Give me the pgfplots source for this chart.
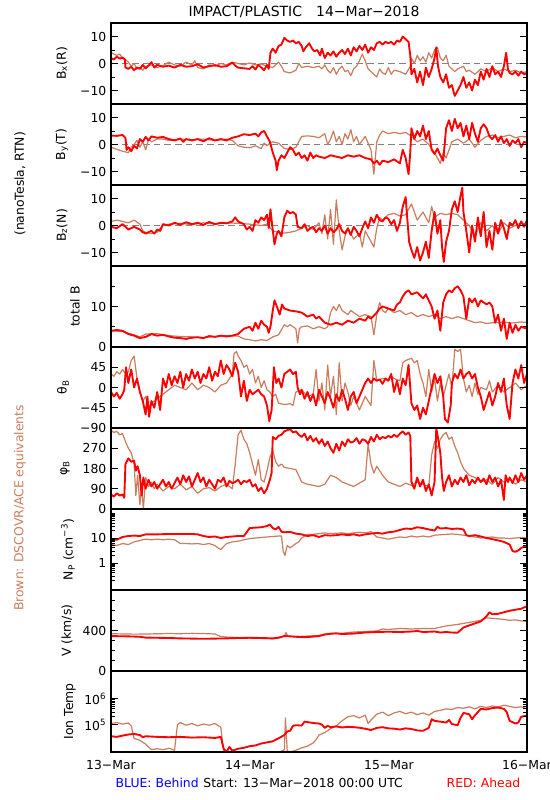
\documentclass[border=0pt]{standalone}
\usepackage{fontspec}
\setmainfont{DejaVu Sans}
\usepackage{pgfplots}
\pgfplotsset{compat=1.18}
\definecolor{brn}{RGB}{200,125,95}
\definecolor{zl}{RGB}{130,130,130}
\pgfplotsset{
  panel/.style={
    scale only axis, width=312pt, height=60.75pt,
    anchor=south west,
    xmin=0, xmax=72,
    xtick=\empty,
    minor xtick={0,6,...,72},
    tick align=inside,
    major tick length=5.5pt, minor tick length=3.2pt,
    axis line style={line width=1pt},
    every tick/.style={black, line width=0.7pt},
    tick label style={font=\fontsize{9.3}{10}\selectfont},
    axis on top,
    /pgf/number format/assume math mode=true,
  },
  rl/.style={color=red, line width=1.4pt, line join=round},
  bl/.style={color=brn, line width=0.9pt, line join=round},
  zline/.style={color=zl, dash pattern=on 5pt off 3pt, line width=0.8pt},
}
\begin{document}
\begin{tikzpicture}[font=\fontsize{9.3}{11}\selectfont]
\useasboundingbox (0,0) rectangle (412.5pt,600pt);

% ---------- Bx ----------
\begin{axis}[panel, at={(83.25pt,522pt)}, ymin=-15, ymax=15, ytick={-10,0,10}, yticklabels={−10,0,10}, minor ytick={-5,5}]
\addplot[zline] coordinates {(0,0) (72,0)};
\addplot[bl] coordinates {(0,4) (0.5,3.5) (1,3) (1.5,3.5) (2,2) (2.5,1.5) (3,0.5) (3.5,-1) (4,0) (4.5,-2) (5,-1.5) (5.5,-2.5) (6,-1) (7,-0.5) (8,-1.5) (9,-0.8) (10,0.5) (11,-0.5) (12,-1) (13,0.5) (14,-0.5) (14.5,1) (15,-1.5) (16,-2) (17,-0.5) (18,-1) (19,0) (20,-0.5) (21,0.5) (22,0) (23,-0.5) (24,0.2) (25,-0.5) (26,-0.2) (27,-1) (28,-1.5) (29,0.5) (29.5,-1) (30,-3) (31,-3.5) (31.5,-3) (32,-2.5) (32.5,0) (33,-1.5) (34,-1) (35,-1.5) (36,-1) (36.5,-2) (37,-0.5) (37.5,-2.5) (38,-3.5) (38.5,-1.5) (39,-4) (39.5,-2) (40,-1) (40.5,-3) (41,-2.5) (41.5,-4.5) (42,-2) (42.5,-1) (43,1) (43.5,3.5) (44,1) (44.5,-2) (45,-3) (45.5,-4) (46,-5) (46.5,-2) (47,-3.5) (47.5,-4) (48,-1.5) (48.5,-4) (49,-2.5) (50,-3) (51,-4) (51.8,-1) (52,2) (52.5,0) (53,3) (53.5,1) (54,2.5) (54.5,0.5) (55,4) (55.5,2) (56,5) (56.5,6) (57,2) (57.5,1) (58,3) (58.5,-1) (59,-2) (59.5,-3) (60,-2) (61,-1) (61.5,-3) (62,-2.5) (63,-4) (64,-2) (65,-3) (66,-1.5) (67,-3) (68,-2) (69,-3) (70,-2.5) (71,-3.5) (72,-3)};
\addplot[rl] coordinates {(0,2) (0.5,1.5) (1,2.5) (1.5,1.8) (2,2.2) (2.4,1.5) (2.5,-1.5) (3,-2) (3.5,-1.2) (4,-2.5) (4.5,-1.5) (5,-2) (5.5,-0.5) (6,-1.8) (6.5,-0.8) (7,0.5) (7.5,-1.5) (8,-0.5) (9,-1.2) (10,-0.8) (11,-1.5) (12,-0.5) (13,-1.2) (14,-1) (15,-0.3) (16,-1.5) (17,-1) (18,-0.6) (19,-1.2) (20,-1) (21,0.3) (21.5,-0.8) (22,-1.5) (23,-1.8) (24,-2) (24.5,-1) (25,-2.2) (25.5,-0.5) (26,-1.5) (26.5,-2.5) (27,-0.5) (27.3,-2) (27.6,4) (28,5.5) (28.5,4) (29,6.5) (29.5,7) (30,9.5) (30.5,8.5) (31,8) (31.5,8.5) (32,7.5) (32.5,8) (33,6.5) (33.3,4.5) (33.7,6) (34.3,7.5) (34.8,5.5) (35.2,4.5) (35.7,5) (36.2,3) (36.5,5.5) (37,2) (37.5,4) (38,3) (38.5,4.5) (39,2.5) (39.5,4) (40,5) (40.5,3.5) (41,5.5) (41.5,3) (42,6) (42.5,4.5) (43,6.5) (43.5,5) (44,7) (44.5,4) (45,6) (45.5,5) (46,7.5) (46.5,8) (47,7) (47.5,8) (48,7.5) (48.5,8) (49,7) (49.5,8.5) (50,8) (50.5,10) (51,9) (51.5,8) (51.8,3) (52,-4) (52.5,-2) (53,-7) (53.5,-3) (54,-8) (54.5,-1.5) (55,-5) (55.5,-2) (56,2) (56.3,6) (56.6,-1) (57,-5) (57.5,-7) (58,-4) (58.5,-9) (59,-8) (59.5,-12) (60,-10) (60.5,-8) (61,-5) (61.5,-9) (62,-7) (62.5,-10) (63,-6) (63.5,-8) (64,-3) (64.5,-6) (65,-2) (65.5,-5) (66,-1) (66.5,-4) (67,-3) (67.5,-5) (68,-1) (68.4,4) (68.7,-2) (69,-3.5) (69.5,-4) (70,-3) (70.5,-4.5) (71,-3) (71.5,-4) (72,-3.5)};
\end{axis}

% ---------- By ----------
\begin{axis}[panel, at={(83.25pt,461.25pt)}, ymin=-15, ymax=15, ytick={-10,0,10}, yticklabels={−10,0,10}, minor ytick={-5,5}]
\addplot[zline] coordinates {(0,0) (72,0)};
\addplot[bl] coordinates {(0,-1) (1,-1.8) (2,-2.5) (3,-3) (3.5,-1) (4,0) (4.5,1.5) (5,-1) (5.5,1) (6,-2) (6.5,2) (7,1) (8,2) (9,2) (10,1.5) (12,2) (14,1.8) (16,2) (18,1.5) (20,2) (21,1.5) (22,-0.5) (23,-1) (24,-1.2) (25,-0.5) (26,-1.5) (26.5,0.5) (27,-0.5) (27.5,0.5) (28,1) (29,0.5) (30,-1.5) (31,-1.8) (32,-1) (33,3) (34,3.2) (35,3) (36,2.5) (37,4) (37.5,0) (38,2) (38.5,5) (39,1) (39.5,3) (40,0) (40.5,4) (41,2) (41.5,5.5) (42,1) (42.5,3) (43,0) (44,3) (45,-2) (45.5,-11) (46,1) (46.5,3.5) (47,5) (48,4) (49,4.5) (50,4) (51,4.5) (52,3) (53,1) (54,2) (55,0) (56,-3) (56.5,-5) (57,-7) (57.5,-3) (58,-5) (58.5,-2) (59,1) (60,2) (61,0.5) (62,2) (63,-1) (64,1.5) (65,3) (66,3.5) (67,2.5) (68,3) (69,3.5) (70,2.5) (71,3) (72,2.8)};
\addplot[rl] coordinates {(0,3.3) (1,3.2) (2,3.5) (2.5,2.5) (2.7,-2) (3,-1) (3.5,-2.5) (4,-0.5) (4.5,-1.5) (5,2) (5.5,1) (6,2.8) (6.5,1.5) (7,3) (8,2.5) (9,2.8) (10,2) (11,1.5) (12,2.2) (12.5,1) (13,2) (14,1.5) (15,2) (16,1.2) (17,2.3) (18,1.5) (19,2) (20,1.5) (21,2.5) (22,3) (23,3.8) (24,3.5) (25,4) (25.5,3) (26,4.5) (26.5,5) (27,3) (27.5,1) (28,-3) (28.5,-6) (28.7,-9.5) (29,-6) (29.5,-4) (30,-5) (30.5,-3) (31,-1) (31.5,-2) (32,-4) (32.5,-3) (33,-5) (33.5,-4) (34,-6) (34.5,-3) (35,-5) (35.5,-4) (36,-4.5) (37,-5) (38,-4) (39,-4.5) (40,-5) (41,-4) (42,-4.5) (43,-4) (44,-5) (45,-5.5) (45.5,-7) (46,-6) (46.5,-7.5) (47,-6) (48,-6.5) (49,-5.5) (50,-7) (50.5,-2) (51,-5) (51.5,-11) (51.8,-3) (52,6) (52.5,2) (53,5) (53.5,3) (54,7) (54.5,2) (55,5) (55.5,-2) (56,-3.5) (56.5,-1.5) (57,-4) (57.5,-6) (58,6) (58.5,9) (59,5) (59.5,9.5) (60,6) (60.5,8) (61,3) (61.5,7) (62,2) (62.5,8) (63,4) (63.5,1) (64,6) (64.5,7.5) (65,6) (65.5,3) (66,2) (66.5,3.5) (67,1) (67.5,3) (68,0.5) (68.5,2) (69,-0.5) (69.5,1.5) (70,0.5) (70.5,2) (71,-1) (71.5,1) (72,0.5)};
\end{axis}

% ---------- Bz ----------
\begin{axis}[panel, at={(83.25pt,400.5pt)}, ymin=-15, ymax=15, ytick={-10,0,10}, yticklabels={−10,0,10}, minor ytick={-5,5}]
\addplot[zline] coordinates {(0,0) (72,0)};
\addplot[bl] coordinates {(0,1.5) (1,2) (2,1.5) (3,1) (4,2) (5,0.5) (5.5,-2) (6,-2.5) (7,-3) (8,-2.5) (8.5,-1) (9,0) (10,0.5) (12,0.8) (14,0.3) (16,1) (18,0.5) (20,1) (22,0.8) (24,0.5) (26,0) (27,0.5) (28,-2) (29,-2.5) (30,-2.8) (31,-2.5) (32,-2) (33,-1) (34,0) (35,-1.5) (36,1) (36.5,-3) (37,4) (37.5,-5) (38,6) (38.5,-7) (39,9.5) (39.5,-2) (40,-9) (40.5,-4) (41,-1) (42,-5) (43,-3) (43.5,-8) (44,-2) (45,-6) (45.5,-8) (46,-1) (46.5,3) (47,2) (48,4) (49,4.5) (50,3.5) (51,4) (52,8) (53,2) (54,5) (55,1) (55.5,7) (56,3) (57,4.5) (58,4) (59,4.5) (60,4) (61,2) (62,0) (63,-4) (64,1) (65,-2) (66,0) (67,-3) (68,1) (69,-1) (70,0) (71,1) (72,0.5)};
\addplot[rl] coordinates {(0,-0.5) (1,-1) (2,0.5) (3,-1.5) (4,-0.5) (5,-1.5) (5.5,-2.5) (6,-3) (7,-2) (7.5,-3) (8,-1.5) (8.5,-2) (9,0.5) (10,0) (11,1) (12,0.3) (13,1.2) (14,0.5) (15,1) (16,0.2) (17,1.3) (18,0.5) (19,1) (20,0.8) (21,1.5) (21.5,3) (22,1.5) (23,0.5) (23.5,-1.5) (24,-0.5) (24.5,-2) (25,2) (25.5,1) (26,3) (26.5,2) (27,4) (27.3,-1) (27.6,6) (27.9,0) (28.3,-7) (28.7,-3) (29,-2) (29.5,-4) (30,3) (30.5,5.5) (31,4.5) (31.5,5) (32,4) (32.3,-0.5) (33,-1) (33.5,0.5) (34,-2) (34.5,-1) (35,-0.5) (35.5,-2.5) (36,-1) (36.5,-2) (37,0) (37.5,-3) (38,-1) (38.5,-2.5) (39,-1.5) (39.5,0.5) (40,-2) (40.5,-3) (41,-1) (41.5,-3.5) (42,-0.5) (42.5,-2) (43,-4) (43.5,-1) (44,1.5) (44.5,-1) (45,3) (45.5,1) (46,4) (46.5,2) (47,1.5) (47.5,3) (48,2.5) (48.5,0.5) (49,2) (49.5,-2) (50,1) (50.5,7) (51,10.5) (51.3,2) (51.6,-6) (52,-9) (52.5,-12) (53,-8) (53.5,-13) (54,-10) (54.5,-6) (55,-12) (55.5,-2) (56,5) (56.5,-3) (57,2) (57.3,-8) (57.6,-13.5) (58,-6) (58.5,-2) (59,6) (59.5,9) (60,5) (60.5,11) (60.8,14) (61,5) (61.5,-2) (62,-10) (62.5,0) (63,-6) (63.5,3) (64,-4) (64.5,5) (65,-8) (65.5,-2) (66,-9) (66.5,1) (67,-3) (67.5,2) (68,-1) (68.5,-5) (69,1) (69.5,0) (70,2) (70.5,-1) (71,1.5) (71.5,-0.5) (72,2)};
\end{axis}

% ---------- total B ----------
\begin{axis}[panel, at={(83.25pt,339.75pt)}, ymin=0, ymax=20, ytick={0,10,20}, yticklabels={0,10,{}}, minor ytick={5,15}]
\addplot[bl] coordinates {(0,4) (2,3.8) (4,3) (5,2.5) (6,3.2) (8,3.3) (10,2.8) (12,2.6) (14,2.5) (16,2.3) (18,2.6) (20,2.8) (22,2.7) (23,2) (24,1.8) (25,1.5) (26,1.8) (27,1.6) (28,2.5) (29,3) (30,5.5) (30.5,5) (31,5.5) (32,4.5) (32.3,1) (32.6,4.5) (33,5) (34,5.2) (35,4.5) (36,5) (37,4.5) (37.5,5) (38,8.5) (38.5,10) (39,9) (39.5,10.5) (40,9) (41,8) (41.5,9) (42,8.5) (43,7.5) (44,8) (45,7.5) (45.5,3) (46,8) (46.5,11) (47,9) (47.5,8.5) (48,9.5) (49,8.5) (50,9) (51,8) (52,8.5) (53,7.5) (54,8) (55,7.5) (56,8) (57,7) (58,7.5) (59,7) (60,7.5) (61,7) (62,6.5) (63,6) (64,6.2) (65,5.8) (66,6) (67,6) (68,6.2) (69,5.9) (70,6) (71,6.2) (72,6)};
\addplot[rl] coordinates {(0,4) (1,4.2) (2,4) (3,3.2) (4,2.8) (5,2.2) (6,2.5) (7,3.2) (8,2.8) (9,3) (10,2.6) (11,2.3) (12,2.2) (13,2) (14,2.3) (15,2.4) (16,2.2) (17,2.7) (18,2.5) (19,2.8) (20,2.6) (21,2.8) (22,3.2) (23,4.5) (24,5) (24.5,4) (25,6) (25.5,4.5) (26,6.5) (26.5,5.5) (27,5) (27.3,3.5) (27.6,5) (28,9) (28.3,11.5) (28.7,10) (29.2,8) (29.6,10.5) (30,9.5) (31,9) (32,8.8) (33,8.5) (34,7.5) (35,8) (35.5,7) (36,7.5) (37,6) (38,5.5) (39,6) (40,5.5) (41,6.5) (42,6) (43,7) (44,6.5) (44.5,7.5) (45,7) (46,8.5) (46.5,9.5) (47,10) (48,9.5) (49,9) (49.5,10.5) (50,11) (50.5,12.5) (51,13.5) (51.5,14) (52,13) (53,13.5) (54,12) (54.5,13) (55,11.5) (55.5,10) (56,7) (56.5,9) (57,4) (57.5,11) (58,13) (58.5,14) (59,13.5) (59.5,14.5) (60,15) (60.5,14) (61,12.5) (61.5,7) (62,12) (62.5,11) (63,12) (63.5,10) (64,11.5) (65,10.5) (65.5,11) (66,10) (66.5,6) (67,8) (67.5,4) (68,7) (68.5,2) (69,6) (69.5,3.5) (70,5.5) (70.5,4) (71,5) (72,4.5)};
\end{axis}

% ---------- theta ----------
\begin{axis}[panel, at={(83.25pt,279pt)}, ymin=-90, ymax=90, ytick={-90,-45,0,45,90}, yticklabels={−90,−45,0,45,{}}]
\addplot[bl] coordinates {(0,30) (0.5,25) (1,35) (1.5,30) (2,40) (2.5,30) (3,35) (3.5,60) (4,70) (4.5,20) (5,-10) (5.5,-30) (6,-20) (6.5,-45) (7,-35) (8,-25) (9,-15) (10,-5) (11,5) (12,0) (13,-5) (14,10) (15,-5) (16,5) (17,0) (18,-10) (19,5) (20,10) (21,30) (21.3,75) (21.7,80) (22,70) (22.5,60) (23,45) (23.5,50) (24,30) (24.5,40) (25,10) (25.5,25) (26,0) (26.5,15) (27,-5) (27.5,-10) (28,-20) (28.5,-15) (29,-35) (30,-38) (31,-36) (31.5,-40) (32,-10) (33,-5) (34,-20) (35,-15) (35.5,40) (36,-30) (36.5,10) (37,-50) (37.5,50) (38,-20) (38.5,25) (39,-60) (39.5,55) (40,-30) (40.5,10) (41,-10) (41.5,-40) (42,-20) (43,-50) (44,-20) (45,-40) (45.5,60) (46,15) (47,20) (48,18) (48.5,25) (49,20) (50,15) (50.5,55) (51,60) (52,65) (52.5,55) (53,60) (53.5,30) (54,10) (54.5,-20) (55,40) (55.5,-10) (56,20) (56.5,-30) (57,10) (57.5,-20) (58,5) (58.5,30) (59,0) (59.5,85) (60,80) (60.5,85) (61,20) (61.5,-10) (62,5) (62.5,-20) (63,10) (63.5,-15) (64,0) (65,-5) (65.5,15) (66,-10) (67,5) (68,-10) (69,0) (70,10) (71,-5) (72,5)};
\addplot[rl] coordinates {(0,-10) (0.5,-20) (1,-12) (1.5,-25) (2,-15) (2.3,-5) (2.6,45) (3,10) (3.5,40) (4,0) (4.5,20) (5,-10) (5.5,-30) (6,-60) (6.3,-20) (6.6,-65) (7,-30) (7.5,-45) (8,-10) (8.5,-50) (9,20) (9.5,0) (10,30) (10.5,5) (11,25) (11.5,10) (12,35) (12.5,0) (13,30) (13.5,15) (14,40) (14.5,20) (15,35) (15.5,10) (16,30) (16.5,20) (17,45) (17.5,15) (18,35) (18.5,25) (19,60) (19.5,30) (20,50) (20.5,40) (21,25) (21.5,55) (22,35) (22.5,-20) (23,15) (23.5,-30) (24,-5) (24.5,-15) (25,-10) (25.5,-5) (26,-15) (26.5,-20) (27,-40) (27.4,-75) (27.8,-50) (28.2,45) (28.6,10) (29,20) (29.5,0) (30,30) (30.5,35) (31,40) (31.5,30) (32,35) (32.3,0) (32.7,-15) (33,-5) (33.5,-25) (34,-10) (34.5,-30) (35,-15) (35.5,-40) (36,-5) (36.5,-20) (37,-35) (37.5,-10) (38,-25) (38.5,-45) (39,-15) (39.5,-30) (40,-5) (40.5,-25) (41,-50) (41.5,-20) (42,-10) (42.5,-35) (43,-20) (43.5,-5) (44,10) (44.5,20) (45,10) (45.5,20) (46,15) (46.5,18) (47,8) (47.5,20) (48,15) (48.5,30) (49,-10) (49.5,15) (50,-15) (50.5,20) (51,5) (51.5,50) (52,-35) (52.5,-50) (53,-40) (53.5,-70) (54,-45) (54.5,-60) (55,-30) (55.5,0) (56,30) (56.5,10) (57,25) (57.5,-20) (57.8,-70) (58.3,-78) (58.8,-40) (59,10) (59.5,30) (60,20) (60.5,40) (61,20) (61.5,30) (62,35) (62.5,20) (63,30) (63.5,0) (64,-20) (64.5,-50) (65,-30) (65.5,-10) (66,-40) (66.5,-20) (67,10) (67.5,-10) (68,20) (68.5,-40) (69,-70) (69.5,10) (70,40) (70.5,20) (71,50) (71.5,10) (72,30)};
\end{axis}

% ---------- phi ----------
\begin{axis}[panel, at={(83.25pt,218.25pt)}, ymin=0, ymax=360, ytick={0,90,180,270,360}, yticklabels={0,90,180,270,{}}]
\addplot[bl] coordinates {(0,350) (0.5,340) (1,345) (1.5,330) (2,335) (2.5,300) (3,270) (3.5,250) (4,200) (4.3,60) (4.6,150) (5,20) (5.3,100) (5.6,0) (6,140) (6.5,100) (7,120) (7.5,90) (8,110) (9,80) (10,100) (11,90) (12,110) (13,85) (14,100) (15,70) (16,90) (17,95) (18,80) (19,100) (20,110) (21,90) (21.5,200) (22,330) (22.5,350) (23,310) (23.5,290) (24,250) (24.5,200) (25,150) (25.5,220) (26,130) (26.5,120) (27,170) (27.5,230) (28,260) (28.5,210) (29,190) (29.5,200) (30,185) (31,180) (32,175) (33,120) (34,110) (35,105) (36,100) (37,110) (37.5,130) (38,150) (39,140) (40,120) (41,110) (42,100) (43,115) (44,130) (44.5,290) (45,200) (45.5,160) (46,190) (47,150) (48,120) (49,110) (50,100) (51,115) (52,105) (53,120) (54,110) (55,100) (55.5,240) (56,300) (56.5,270) (57,310) (57.5,330) (58,340) (58.5,310) (59,320) (59.5,280) (60,250) (60.5,210) (61,180) (62,150) (63,140) (64,120) (65,130) (66,110) (67,140) (68,120) (69,135) (70,110) (71,130) (72,120)};
\addplot[rl] coordinates {(0,65) (0.5,55) (1,70) (1.5,60) (2,65) (2.3,50) (2.5,200) (3,225) (3.5,210) (4,215) (4.3,170) (4.6,190) (5,150) (5.3,60) (5.6,140) (6,90) (6.5,130) (7,100) (7.5,120) (8,90) (8.5,110) (9,130) (9.5,100) (10,120) (10.5,90) (11,115) (11.5,140) (12,110) (12.5,150) (13,120) (13.5,145) (14,100) (14.5,130) (15,160) (15.5,120) (16,140) (16.5,100) (17,130) (17.5,110) (18,90) (18.5,130) (19,120) (19.5,140) (20,100) (20.5,125) (21,115) (21.5,120) (22,130) (22.5,110) (23,125) (23.5,120) (24,130) (24.5,100) (25,110) (25.5,80) (26,95) (26.5,70) (27,90) (27.5,130) (27.8,160) (28,320) (28.5,310) (29,325) (29.5,330) (30,345) (30.5,350) (31,355) (31.5,340) (32,345) (32.5,330) (33,320) (33.5,335) (34,305) (34.5,325) (35,300) (35.5,315) (36,290) (36.5,310) (37,280) (37.5,300) (38,270) (38.5,250) (39,290) (39.5,260) (40,300) (40.5,280) (41,310) (41.5,295) (42,300) (42.5,315) (43,290) (43.5,310) (44,305) (44.5,290) (45,320) (45.5,300) (46,330) (46.5,310) (47,320) (47.5,315) (48,325) (48.5,318) (49,330) (49.5,320) (50,335) (50.5,345) (51,330) (51.5,340) (51.8,325) (52,120) (52.5,90) (53,140) (53.5,100) (54,130) (54.5,80) (55,110) (55.5,60) (56,120) (56.3,360) (56.7,300) (57,250) (57.3,140) (57.6,80) (58,120) (58.5,150) (59,100) (59.5,130) (60,110) (60.5,140) (61,120) (61.5,150) (62,105) (62.5,130) (63,115) (63.5,140) (64,120) (64.5,135) (65,110) (65.5,150) (66,120) (66.5,140) (67,100) (67.5,130) (68,40) (68.3,150) (68.7,120) (69,140) (69.5,115) (70,150) (70.5,120) (71,160) (71.5,130) (72,150)};
\end{axis}

% ---------- Np ----------
\begin{axis}[panel, at={(83.25pt,157.5pt)}, ymode=log, ymin=0.083, ymax=145, ytick={1,10}, yticklabels={1,10}, minor ytick={0.09,0.2,0.3,0.4,0.5,0.6,0.7,0.8,0.9,2,3,4,5,6,7,8,9,20,30,40,50,60,70,80,90,100}]
\addplot[bl] coordinates {(0,5.5) (1,5) (2,6) (3,5.5) (4,7) (5,8) (6,9) (7,8.5) (8,9) (9,8.5) (10,9) (11,8.5) (12,6) (13,6) (14,5.8) (15,6) (16,5.5) (17,6) (18,5) (18.5,4) (19,3.5) (20,6) (21,7) (22,7.5) (23,8.5) (24,9.5) (25,10) (26,10.5) (27,11) (28,11.5) (29,12) (29.5,12) (29.8,3) (30.1,2) (30.5,5) (31,4) (32,6) (32.5,7) (33,10) (34,14) (35,14) (36,15) (37,16) (38,15) (39,15.5) (40,16) (41,15) (42,16) (43,17) (44,16) (45,18) (46,11) (47,10) (48,9) (49,10) (50,11) (51,10.5) (52,12) (53,11) (54,12) (55,11) (56,13) (57,13.5) (58,14) (59,14.5) (60,14) (61,13) (62,12) (63,11) (64,10) (65,10.5) (66,11) (67,10) (68,10) (69,9.5) (70,10) (71,10.5) (72,10)};
\addplot[rl] coordinates {(0,9) (1,8.5) (2,11) (3,12) (4,12.5) (5,12) (6,14) (8,14) (10,14.5) (12,14.5) (14,14.5) (15,14) (16,12) (17,11) (18,11.5) (19,10) (20,11) (21,11.5) (22,12) (23,12) (24,25) (25,26) (26,27) (27,30) (27.5,35) (28,25) (28.5,22) (29,28) (29.5,18) (30,17) (31,17.5) (32,15) (33,14) (34,12) (35,13) (36,11) (37,13) (38,12.5) (39,13) (40,14) (41,13) (42,14) (43,12.5) (44,14) (45,15) (46,16) (47,15) (48,17) (49,18) (50,21) (51,24) (52,23) (53,27) (54,25) (55,22) (56,20) (56.5,28) (57,24) (58,25) (59,23) (60,24) (61,22) (61.5,13) (62,12) (63,13) (64,11.5) (65,10) (66,9) (67,8) (68,7) (69,5.5) (69.5,3) (70,2.8) (70.5,3.2) (71,4) (72,5)};
\end{axis}

% ---------- V ----------
\begin{axis}[panel, at={(83.25pt,96.75pt)}, ymin=0, ymax=800, ytick={0,400,800}, yticklabels={0,400,{}}, minor ytick={100,200,300,500,600,700}]
\addplot[bl] coordinates {(0,368) (2,366) (4,364) (6,365) (8,368) (10,370) (12,368) (14,372) (16,370) (18,365) (19,340) (20,335) (22,330) (24,325) (26,322) (28,318) (29,325) (30,345) (30.3,380) (30.6,345) (32,340) (34,345) (36,350) (37,365) (38,370) (40,372) (42,385) (44,390) (46,395) (47,415) (48,410) (50,420) (52,415) (54,420) (56,420) (58,445) (60,460) (61,470) (62,480) (63,490) (64,500) (65,525) (66,520) (67,515) (68,510) (69,500) (70,505) (71,495) (72,490)};
\addplot[rl] coordinates {(0,345) (3,342) (5,338) (6,330) (8,328) (10,326) (12,322) (14,320) (16,318) (18,320) (20,322) (22,326) (24,328) (26,326) (28,322) (29,330) (30,345) (31,342) (32,338) (33,335) (34,335) (35,340) (36,345) (37,360) (38,368) (39,372) (40,365) (42,370) (44,380) (46,385) (48,388) (50,385) (52,390) (53,395) (54,385) (56,390) (57,380) (58,385) (59,380) (60,378) (61,430) (62,450) (63,470) (64,490) (65,540) (65.5,580) (66,560) (67,565) (68,580) (69,595) (70,605) (71,615) (72,640)};
\end{axis}

% ---------- Ion Temp ----------
\begin{axis}[panel, at={(83.25pt,36pt)}, ymode=log, ymin=9000, ymax=1.12e7, ytick={1e5,1e6}, yticklabels={10\textsuperscript{5},10\textsuperscript{6}}]
\addplot[bl] coordinates {(0,110000) (1,120000) (2,105000) (3,115000) (3.5,90000) (4,30000) (5,25000) (6,18000) (6.5,14000) (7,11000) (8,12000) (9,11000) (10,12500) (11,10500) (11.5,100000) (12,120000) (13,95000) (14,110000) (15,90000) (16,105000) (17,95000) (18,110000) (19,80000) (19.5,9500) (20,8500) (22,8800) (24,9200) (26,8700) (28,9000) (29,8500) (30,11000) (30.2,180000) (30.5,10000) (31,9000) (32,10500) (33,13000) (34,15000) (35,20000) (35.5,27000) (36,40000) (37,50000) (38,70000) (39,90000) (40,140000) (41,200000) (42,220000) (43,180000) (44,230000) (44.5,110000) (45,150000) (46,250000) (47,300000) (48,220000) (49,280000) (50,320000) (51,260000) (52,300000) (53,240000) (54,280000) (55,230000) (56,320000) (57,350000) (58,400000) (59,380000) (60,450000) (61,420000) (62,480000) (63,400000) (64,500000) (65,450000) (66,520000) (67,470000) (68,550000) (69,500000) (70,450000) (71,480000) (72,400000)};
\addplot[rl] coordinates {(0,36000) (1,34000) (2,38000) (3,42000) (4,44000) (5,40000) (5.5,33000) (6,36000) (8,34000) (10,33000) (12,34000) (14,32000) (16,33000) (18,31000) (19,34000) (19.5,12000) (20,9000) (20.5,14000) (21,10000) (22,12000) (23,13000) (24,15000) (25,16000) (26,19000) (27,21000) (28,23000) (29,30000) (30,40000) (30.5,55000) (31,58000) (31.5,90000) (32,95000) (33,92000) (33.5,130000) (34,125000) (35,115000) (36,110000) (36.5,100000) (37,75000) (37.5,90000) (38,80000) (39,85000) (40,78000) (41,82000) (42,80000) (43,76000) (44,70000) (45,62000) (46,75000) (47,80000) (48,72000) (49,70000) (50,65000) (51,72000) (52,68000) (53,60000) (54,58000) (55,75000) (55.5,160000) (56,140000) (57,130000) (58,120000) (58.5,150000) (59,105000) (60,95000) (60.5,180000) (61,280000) (62,250000) (62.5,160000) (63,230000) (63.5,300000) (64,400000) (65,380000) (66,430000) (67,450000) (68,400000) (68.5,300000) (69,140000) (70,110000) (70.5,120000) (71,200000) (72,220000)};
\end{axis}

% ---------- texts ----------
\node[font=\fontsize{10.5}{12}\selectfont] at (228pt,591pt) {IMPACT/PLASTIC\quad 14−Mar−2018};
\node[rotate=90] at (46.5pt,552.4pt) {B\textsubscript{x}(R)};
\node[rotate=90] at (46.5pt,491.6pt) {B\textsubscript{y}(T)};
\node[rotate=90] at (46.5pt,430.9pt) {B\textsubscript{z}(N)};
\node[rotate=90] at (56.25pt,370.1pt) {total B};
\node[rotate=90] at (47.25pt,309.4pt) {θ\textsubscript{B}};
\node[rotate=90] at (48.75pt,248.6pt) {φ\textsubscript{B}};
\node[rotate=90] at (51pt,187.9pt) {N\textsubscript{P} (cm\textsuperscript{−3})};
\node[rotate=90] at (50.25pt,127.1pt) {V (km/s)};
\node[rotate=90] at (52.5pt,66.4pt) {Ion Temp};
\node[rotate=90] at (15pt,462pt) {(nanoTesla, RTN)};
\node[rotate=90, text=brn] at (15pt,219pt) {Brown: DSCOVR/ACE equivalents};
\node at (83.25pt,26.25pt) {13−Mar};
\node at (187.5pt,26.25pt) {14−Mar};
\node at (291.75pt,26.25pt) {15−Mar};
\node at (395.25pt,26.25pt) {16−Mar};
\node[anchor=west, text=blue] at (83.25pt,12.75pt) {BLUE: Behind};
\node[anchor=west] at (149pt,12.75pt) {Start: 13−Mar−2018 00:00 UTC};
\node[anchor=east, text=red] at (393.75pt,12.75pt) {RED: Ahead};
\end{tikzpicture}
\end{document}
